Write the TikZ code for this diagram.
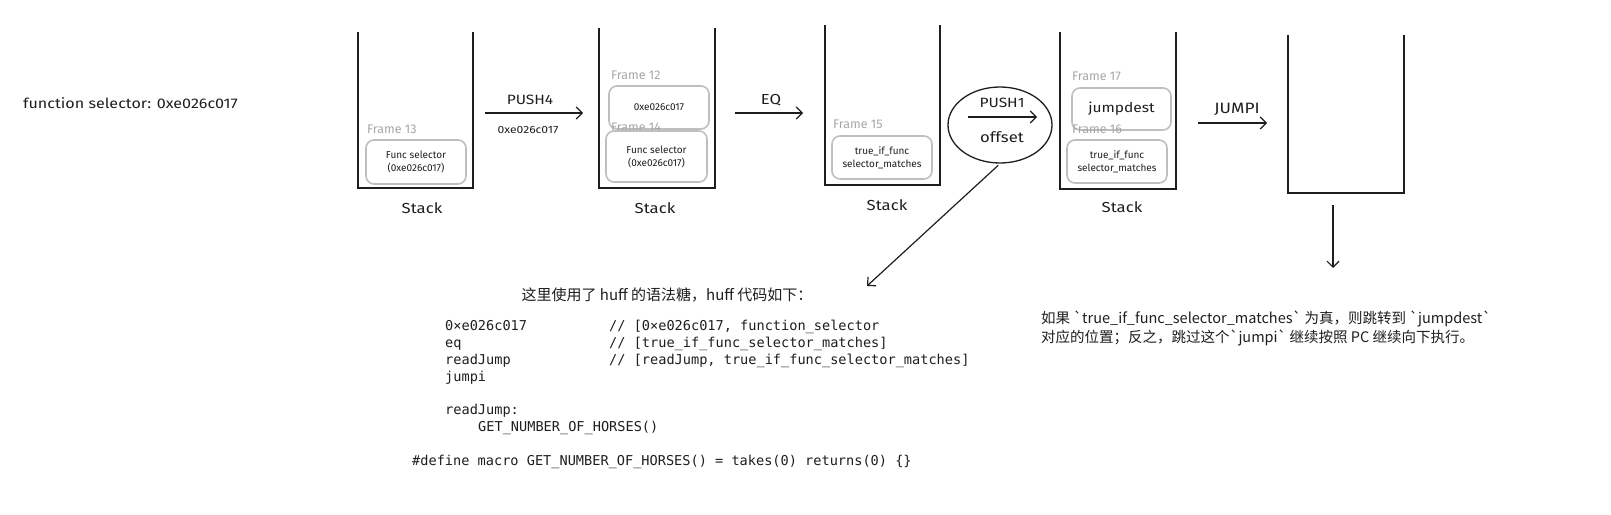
\documentclass[tikz,border=0pt]{standalone}
\usepackage{fontspec}
\setmainfont{Fira Sans}
\setmonofont{DejaVu Sans Mono}
\newfontfamily\hand[FakeStretch=1.15]{Fira Sans}
\newfontfamily\cjk{Noto Sans CJK SC}
\usetikzlibrary{arrows.meta,shapes.geometric}
\definecolor{ink}{HTML}{1E1E1E}
\definecolor{framegray}{HTML}{BFBFBF}
\definecolor{labelgray}{HTML}{A6A6A6}
\tikzset{
  stk/.style={draw=none, inner sep=0pt, outer sep=0pt},
  wall/.style={draw=ink, line width=1.8pt},
  frm/.style={draw=framegray, line width=1.6pt, rounded corners=8pt, inner sep=0pt, outer sep=0pt, align=center, text=ink, font=\fontsize{10}{13}\selectfont},
  flabel/.style={anchor=west, inner sep=0pt, text=labelgray, font=\fontsize{12.5}{14}\selectfont},
  conn/.style={draw=ink, line width=1.2pt, -{Straight Barb[length=6pt,width=12pt]}},
  lbl/.style={inner sep=0pt, text=ink, font=\hand\fontsize{13.5}{15}\selectfont},
  stacklbl/.style={inner sep=0pt, text=ink, font=\hand\fontsize{14.5}{17}\selectfont},
  code/.style={anchor=west, inner sep=0pt, text height=10pt, text depth=3pt, text=ink, font=\ttfamily\fontsize{13.6}{16}\selectfont},
  cjktext/.style={inner sep=0pt, text=ink, font=\cjk\fontsize{14.5}{19}\selectfont}
}
\begin{document}
\begin{tikzpicture}[x=1pt,y=-1pt]
\useasboundingbox (0,0) rectangle (1611,514);

% left label
\node[lbl, anchor=west, font=\hand\fontsize{14}{16}\selectfont] (fsel) at (23,103) {function selector: 0xe026c017};

% stacks
\node[stk, minimum width=115pt, minimum height=156pt] (s1) at (415.5,110) {};
\node[stk, minimum width=116pt, minimum height=160pt] (s2) at (657,108) {};
\node[stk, minimum width=115pt, minimum height=160pt] (s3) at (882.5,105) {};
\node[stk, minimum width=116pt, minimum height=157pt] (s4) at (1118,110.5) {};
\node[stk, minimum width=116pt, minimum height=158pt] (s5) at (1346,114) {};
\foreach \s in {s1,s2,s3,s4,s5}
  \draw[wall] (\s.north west) -- (\s.south west) -- (\s.south east) -- (\s.north east);

% stack captions
\node[stacklbl] (st1) at (422,208) {Stack};
\node[stacklbl] (st2) at (655,208) {Stack};
\node[stacklbl] (st3) at (887,205) {Stack};
\node[stacklbl] (st4) at (1122,207) {Stack};

% frames
\node[flabel] (l13) at (367,129) {Frame 13};
\node[frm, minimum width=100pt, minimum height=44pt] (f13) at (416,162) {Func selector\\(0xe026c017)};

\node[flabel] (l12) at (611,75) {Frame 12};
\node[frm, minimum width=100pt, minimum height=43pt] (f12) at (659,107.5) {0xe026c017};
\node[flabel] (l14) at (611,127) {Frame 14};
\node[frm, minimum width=101pt, minimum height=51pt] (f14) at (656.5,156.5) {Func selector\\(0xe026c017)};

\node[flabel] (l15) at (833,124) {Frame 15};
\node[frm, minimum width=100pt, minimum height=43pt] (f15) at (882,157.5) {true\_if\_func\\selector\_matches};

\node[flabel] (l17) at (1072,76) {Frame 17};
\node[frm, minimum width=99pt, minimum height=42pt, font=\hand\fontsize{13.5}{16}\selectfont] (f17) at (1121.5,109) {jumpdest};
\node[flabel] (l16) at (1072,129) {Frame 16};
\node[frm, minimum width=100pt, minimum height=43pt] (f16) at (1117,161.5) {true\_if\_func\\selector\_matches};

% PUSH4
\coordinate (a1s) at (485,113);
\coordinate (a1e) at (583,113);
\draw[conn] (a1s) -- (a1e);
\node[lbl] (push4) at (530,100) {PUSH4};
\node[lbl, font=\hand\fontsize{10.5}{12}\selectfont] (push4v) at (528,130) {0xe026c017};

% EQ
\coordinate (a2s) at (735,113);
\coordinate (a2e) at (803,113);
\draw[conn] (a2s) -- (a2e);
\node[lbl, font=\hand\fontsize{14.5}{16}\selectfont] (eq) at (771,100) {EQ};

% PUSH1 in ellipse
\node[ellipse, draw=ink, line width=1.3pt, minimum width=104pt, minimum height=76pt, inner sep=0pt] (oval) at (1000,125) {};
\coordinate (a3s) at (968,117);
\coordinate (a3e) at (1037,117);
\draw[conn] (a3s) -- (a3e);
\node[lbl] (push1) at (1002,103) {PUSH1};
\node[lbl, font=\hand\fontsize{14.5}{17}\selectfont] (offset) at (1002,137) {offset};

% JUMPI
\coordinate (a4s) at (1198,123);
\coordinate (a4e) at (1267,123);
\draw[conn] (a4s) -- (a4e);
\node[lbl, font=\hand\fontsize{15}{17}\selectfont] (jumpi) at (1237,109) {JUMPI};

% down arrow
\coordinate (a5s) at (1333,205);
\coordinate (a5e) at (1333,268);
\draw[conn] (a5s) -- (a5e);

% diagonal arrow
\coordinate (d1) at (867,286);
\draw[conn, shorten <=2.5pt] (oval.south) -- (d1);

% code block
\node[cjktext, font=\cjk\fontsize{15}{19}\selectfont] (hdr) at (667,295) {这里使用了 huff 的语法糖，huff 代码如下：};
\node[code] (c1) at (445,327) {0×e026c017};
\node[code] (k1) at (609,327) {// [0×e026c017, function\_selector};
\node[code] (c2) at (445,344) {eq};
\node[code] (k2) at (609,344) {// [true\_if\_func\_selector\_matches]};
\node[code] (c3) at (445,361) {readJump};
\node[code] (k3) at (609,361) {// [readJump, true\_if\_func\_selector\_matches]};
\node[code] (c4) at (445,378) {jumpi};
\node[code] (c5) at (445,411) {readJump:};
\node[code] (c6) at (478,428) {GET\_NUMBER\_OF\_HORSES()};
\node[code] (c7) at (412,462) {\#define macro GET\_NUMBER\_OF\_HORSES() = takes(0) returns(0) \{\}};

% explanation
\node[cjktext, anchor=west, align=left] (expl) at (1041,328.5) {如果 \textasciigrave true\_if\_func\_selector\_matches\textasciigrave{} 为真，则跳转到 \textasciigrave jumpdest\textasciigrave\\对应的位置；反之，跳过这个\textasciigrave jumpi\textasciigrave{} 继续按照 PC 继续向下执行。};
\end{tikzpicture}
\end{document}
